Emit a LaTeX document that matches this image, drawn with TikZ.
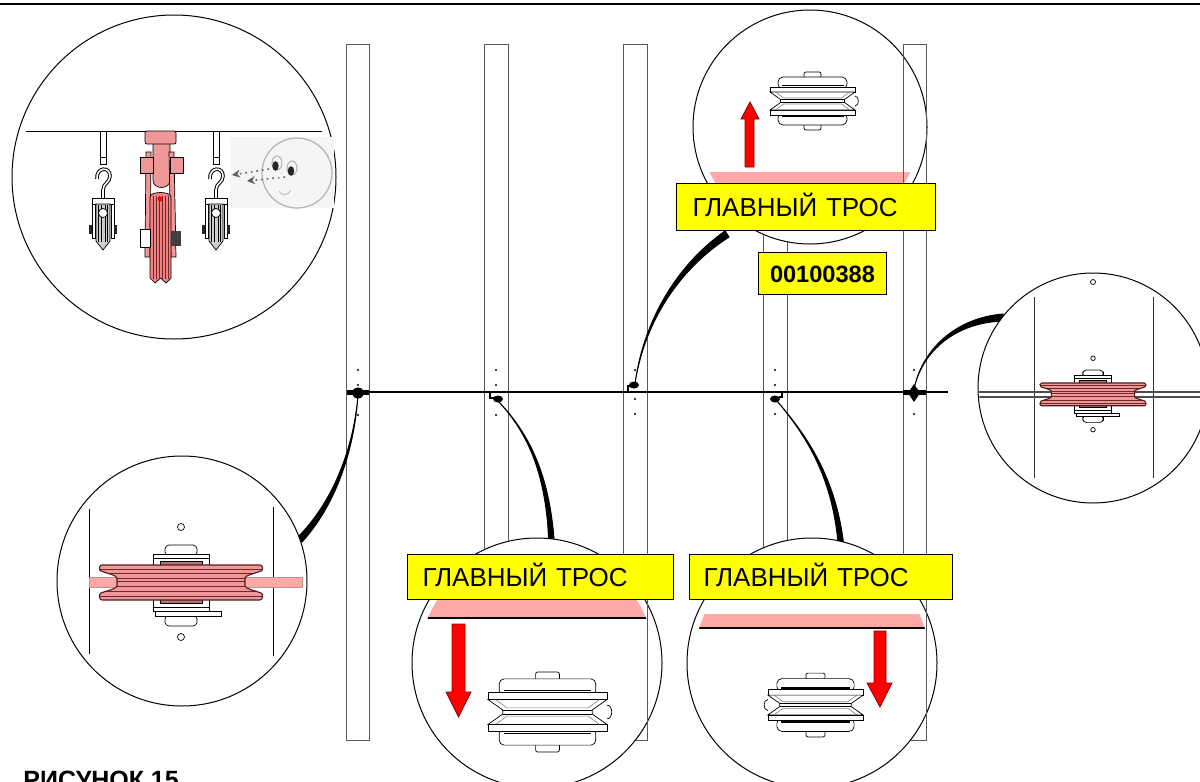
\documentclass[tikz,border=0pt]{standalone}
\usepackage{fontspec}
\setmainfont{Liberation Sans}
\usetikzlibrary{calc,arrows.meta}

\definecolor{tagyellow}{RGB}{255,255,0}
\definecolor{sheavepink}{RGB}{240,152,152}
\definecolor{sheavedark}{RGB}{110,40,40}
\definecolor{bandpink}{RGB}{255,168,168}
\definecolor{arrowred}{RGB}{255,0,0}
\definecolor{polegray}{RGB}{90,90,90}

% tapered leader: thin at the pulley mount, wide at the detail circle
\newcommand\taperline[5]{%
  \filldraw[line width=0.5pt] (#1) .. controls (#2) and (#3) .. (#4)
    -- ($(#4)+(#5)$) .. controls ($(#3)+0.6*(#5)$) and ($(#2)+0.15*(#5)$) .. (#1) -- cycle;}

% outline of the grooved wheel seen from the front
\newcommand\sheaveoutline{(-79,-17) -- (79,-17) .. controls (82,-17) and (82.5,-12) .. (80,-11)
  .. controls (72,-8) and (65,-7) .. (64,-4) -- (64,4) .. controls (65,7) and (72,8) .. (80,11)
  .. controls (82.5,12) and (82,18) .. (79,18) -- (-79,18) .. controls (-82,18) and (-82.5,12) .. (-80,11)
  .. controls (-72,8) and (-65,7) .. (-64,4) -- (-64,-4) .. controls (-65,-7) and (-72,-8) .. (-80,-11)
  .. controls (-82.5,-12) and (-82,-17) .. (-79,-17) -- cycle}

\tikzset{
  part/.style={draw=black, line width=0.35pt},
  pole/.style={draw=polegray, line width=0.5pt},
  zoomcircle/.style={circle, draw=black, line width=0.5pt, fill=white, inner sep=0pt},
  tagbox/.style={draw=black, line width=0.5pt, fill=tagyellow, anchor=north west,
    inner ysep=0pt, text depth=0pt},
  redarrow/.style={draw=red!55!black, line width=0.4pt, fill=arrowred},
  % pulley seen from the side (groove facing left/right)
  sidesheave/.pic={
    \draw[part, fill=white, rounded corners=1pt] (-8.5,-29) rectangle (8.5,-23);
    \draw[part, fill=white, rounded corners=1pt] (-8.5,23) rectangle (8.5,29);
    \draw[part, fill=white, rounded corners=2.5pt] (-34.5,-24) rectangle (34.5,-12);
    \draw[part, fill=white, rounded corners=2.5pt] (-34.5,12) rectangle (34.5,24);
    \draw[line width=0.6pt] (-31,-15.5) -- (31,-15.5);
    \draw[line width=0.6pt] (-31,15.5) -- (31,15.5);
    \draw[part, fill=white] (-42.5,-14) rectangle (42.5,-9);
    \draw[part, fill=white] (-42.5,9) rectangle (42.5,14);
    \draw[part, fill=white] (-42.5,-9) -- (-32,-1.5) -- (-32,1.5) -- (-42.5,9) -- (42.5,9)
      -- (32,1.5) -- (32,-1.5) -- (42.5,-9) -- cycle;
    \draw[part] (-32,-1.5) -- (32,-1.5) (-32,1.5) -- (32,1.5);
    \draw[draw=gray, line width=0.3pt] (-37,-9) -- (-29,-3) -- (29,-3) -- (37,-9);
    \draw[draw=gray, line width=0.3pt] (-37,9) -- (-29,3) -- (29,3) -- (37,9);
    \draw[part] (42.5,-5) .. controls (47,-5) and (47,5) .. (42.5,5);
  },
  % grooved pink wheel seen from the front, cable level at y=0
  frontsheave/.pic={
    \draw[part, fill=white] (0,-55) circle (3.5);
    \draw[part, fill=white] (0,55) circle (3.5);
    \draw[part, fill=white, rounded corners=2pt] (-16,-37) rectangle (16,-26);
    \draw[part, fill=white] (-28,-28) rectangle (28,-17);
    \draw[part] (-28,-24) -- (28,-24);
    \draw[part, fill=sheavepink!75!black] (-21,-21) rectangle (21,-17);
    \draw[part, fill=white, rounded corners=2pt] (-16,33) rectangle (16,44);
    \draw[part, fill=white] (-26,29) rectangle (40,34);
    \draw[part, fill=white] (-28,17) rectangle (28,29);
    \draw[part] (-28,25) -- (28,25);
    \draw[part, fill=sheavepink!75!black] (-21,17) rectangle (21,21);
    \fill[sheavepink] \sheaveoutline;
    \begin{scope}
      \clip \sheaveoutline;
      \foreach \yy in {-13,-9,-4,-1,4,9,14}
        \draw[sheavedark, line width=0.3pt] (-90,\yy) -- (90,\yy);
    \end{scope}
    \draw[draw=sheavedark!70!black, line width=0.55pt] \sheaveoutline;
  },
  % hook with a small snatch block, hanging from the line at y=0
  hookblock/.pic={
    \draw[part, fill=white] (-3,0) rectangle (3,33);
    \draw[part] (-3,26) -- (3,26);
    \draw[line width=1.8pt] (-6,48) .. controls (-7,36) and (7,35) .. (7,45)
      .. controls (7,52) and (0,52) .. (0,59) -- (0,67);
    \draw[line width=0.8pt, white] (-6,48) .. controls (-7,36) and (7,35) .. (7,45)
      .. controls (7,52) and (0,52) .. (0,59) -- (0,67);
    \draw[part, fill=white] (-11,67) rectangle (11,73);
    \draw[part, fill=black!20] (-7,73) -- (-7,110) -- (0,119) -- (7,110) -- (7,73) -- cycle;
    \foreach \xx in {-4.5,-2,2,4.5} \draw[part] (\xx,74) -- (\xx,111);
    \draw[part, fill=white] (-11,73) rectangle (-8,107);
    \draw[part, fill=white] (8,73) rectangle (11,107);
    \draw[part, fill=white] (0,82) circle (4.5);
    \fill[black!85] (-14,94) rectangle (-11,103);
    \fill[black!85] (11,94) rectangle (14,103);
  }
}

\begin{document}
\begin{tikzpicture}[x=0.5pt, y=-0.5pt]
\useasboundingbox (0,0) rectangle (1200,782);
\fill[white] (0,0) rectangle (1200,782);

% frame line at the top
\draw[line width=1pt] (0,4) -- (1200,4);

% poles
\foreach \xa/\xb in {346/369, 484/508, 623/647, 763/787, 903/926}
  \draw[pole] (\xa,44) rectangle (\xb,740);

% bolt holes on the poles
\foreach \px/\py in {358/370, 358/385, 358/415, 496/370, 496/385, 496/415,
                     635/370, 635/399, 635/414, 775/370, 775/385, 775/414,
                     914/370, 914/414}
  \fill (\px,\py) circle (1.1);

% main cable
\draw[line width=1.1pt] (347,392) -- (948,392);

% pulley mounts on the poles
\coordinate (m1) at (358,395);
\coordinate (m2) at (498,401);
\coordinate (m3) at (635,384);
\coordinate (m4) at (777,401);
\coordinate (m5) at (914,389);
\fill (347,389.5) rectangle (369,394.5);
\fill (358,393) ellipse [x radius=6, y radius=5.5];
\fill (903,389.5) rectangle (926,394.5);
\fill (914,384) -- (920,393) -- (914,402) -- (908,393) -- cycle;
\draw[line width=0.6pt] (490,392) -- (490,398) -- (494,398);
\fill (498,399) ellipse [x radius=5, y radius=3.5];
\draw[line width=0.6pt] (628,392) -- (628,386) -- (631,386);
\fill (634,385) ellipse [x radius=5, y radius=3.5];
\draw[line width=0.6pt] (782,392) -- (782,397) -- (779,397);
\fill (775,399) ellipse [x radius=5, y radius=3.5];

% leaders from the mounts to the detail views
\coordinate (e1) at (297,538);
\coordinate (e2) at (549,558);
\coordinate (e3) at (725,231);
\coordinate (e4) at (839,558);
\coordinate (e5) at (1003,314);
\taperline{m1}{354,445}{335,500}{e1}{5,4}
\taperline{m2}{530,435}{549,480}{e2}{6,0}
\taperline{m3}{642,330}{670,270}{e3}{4,6}
\taperline{m4}{810,440}{836,485}{e4}{6,0}
\taperline{m5}{922,350}{955,318}{e5}{1,7}

% detail: block hanging from the line
\node[zoomcircle, minimum size=162pt] (zTL) at (174,177) {};
\draw[line width=0.5pt] (26,131) -- (322,131);
\pic at (103,131) {hookblock};
\pic at (216,131) {hookblock};
\draw[part, fill=sheavepink] (153,133) -- (153,180) .. controls (153,190) and (170,190) .. (170,180) -- (170,133) -- cycle;
\draw[part, fill=sheavepink] (146,152) -- (151,152) -- (150,257) -- (145,257) -- cycle;
\draw[part, fill=sheavepink] (169,152) -- (174,152) -- (176,257) -- (171,257) -- cycle;
\draw[part, fill=sheavepink, rounded corners=1pt] (145,131) rectangle (176,144);
\draw[part, fill=sheavepink] (140,157) rectangle (153,173);
\draw[part, fill=sheavepink] (170,157) rectangle (183,173);
\draw[part, fill=sheavepink!85!red] (150,197) .. controls (150,191) and (171,191) .. (171,197)
  -- (171,278) -- (166,283) -- (160.5,278) -- (155,283) -- (150,278) -- cycle;
\foreach \xx in {153,156,159,162,165,168}
  \draw[sheavedark, line width=0.3pt] (\xx,196) -- (\xx,279);
\draw[part, fill=white] (140,229) rectangle (150,247);
\fill[black!75] (171,231) rectangle (181,246);
\fill[red] (160,199) circle (2.5);
% observer
\fill[black!4] (230,137) rectangle (334,208);
\draw[gray!60, line width=0.6pt] (297,173) circle (35);
\draw[gray!60, line width=0.5pt] (277,163) ellipse [x radius=5, y radius=7];
\fill[black!85] (275.5,166) ellipse [x radius=3.2, y radius=4.8];
\draw[gray!60, line width=0.5pt] (292,168) ellipse [x radius=5, y radius=7];
\fill[black!85] (291,171) ellipse [x radius=3.2, y radius=4.8];
\draw[gray!50, line width=0.5pt] (279,191) .. controls (282,196) and (288,196) .. (291,190);
\draw[gray!75!black, dotted, line width=0.8pt, -{Stealth[length=4pt, width=4pt]}] (269,169) -- (232,175);
\draw[gray!75!black, dotted, line width=0.8pt, -{Stealth[length=4pt, width=4pt]}] (285,177) -- (247,181);

% detail: pulley lifted up
\node[zoomcircle, minimum size=117pt] (zTM) at (810,127) {};
\begin{scope}
  \clip (810,127) circle (110);
  \fill[bandpink] (680,172) rectangle (940,195);
\end{scope}
\draw[redarrow] (745,167) -- (745,119) -- (741,119) -- (750,102) -- (759,119) -- (754,119) -- (754,167) -- cycle;
\pic at (812.5,101) {sidesheave};

% detail: pulley at the end pole
\node[zoomcircle, minimum size=115pt] (zR) at (1093,388) {};
\draw[line width=0.5pt, black!80] (1034,297) -- (1034,478);
\draw[line width=0.5pt, black!80] (1153,297) -- (1153,478);
\begin{scope}
  \clip (1093,388) circle (114);
  \draw[line width=0.6pt, black!70] (970,392) -- (1210,392);
  \draw[line width=0.6pt, black!70] (970,397) -- (1210,397);
\end{scope}
\draw[part, fill=white] (1093,282) circle (2.5);
\pic[scale=0.65] at (1093,394) {frontsheave};

% detail: pulley at the first pole
\node[zoomcircle, minimum size=125pt] (zBL) at (182,581) {};
\draw[line width=0.5pt] (89,509) -- (89,654);
\draw[line width=0.5pt] (273,507) -- (273,656);
\draw[draw=sheavedark!50, line width=0.3pt, fill=bandpink] (89,577) rectangle (302,587);
\pic at (181,582) {frontsheave};

% detail: pulley pulled down (left)
\node[zoomcircle, minimum size=125pt] (zB1) at (537,663) {};
\begin{scope}
  \clip (537,663) circle (118);
  \fill[bandpink] (400,596) rectangle (680,618);
  \draw[line width=0.6pt] (400,618) -- (680,618);
\end{scope}
\draw[redarrow] (452,624) -- (465,624) -- (465,692) -- (471,692) -- (458.5,717) -- (446,692) -- (452,692) -- cycle;
\pic[xscale=1.4, yscale=1.38] at (547.5,712) {sidesheave};

% detail: pulley pulled down (right)
\node[zoomcircle, minimum size=125pt] (zB2) at (812,663) {};
\begin{scope}
  \clip (812,663) circle (118);
  \fill[bandpink] (680,614) rectangle (950,628);
  \draw[line width=0.6pt] (680,628) -- (950,628);
\end{scope}
\draw[redarrow] (874,631) -- (886,631) -- (886,683) -- (892,683) -- (880,707) -- (867,683) -- (874,683) -- cycle;
\pic[xscale=-1.12, yscale=1.1] at (815.5,705) {sidesheave};

% pole edges seen in front of the detail views
\draw[pole] (903,250) -- (903,44) -- (926,44) -- (926,250);
\draw[pole] (647,598) -- (647,740);
\draw[pole] (926,598) -- (926,740);

% tags
\node[tagbox, font=\fontsize{13}{15}\selectfont, minimum height=23.5pt, text height=9.3pt,
  text width=113.5pt, inner xsep=8pt, align=left] (tagA) at (676,183) {ГЛАВНЫЙ ТРОС};
\node[tagbox, font=\fontsize{13}{15}\selectfont, minimum height=22.5pt, text height=9.3pt,
  text width=118pt, inner xsep=7.5pt, align=left] (tagB) at (407,554) {ГЛАВНЫЙ ТРОС};
\node[tagbox, font=\fontsize{13}{15}\selectfont, minimum height=22.5pt, text height=9.3pt,
  text width=117.5pt, inner xsep=7pt, align=left] (tagC) at (689,554) {ГЛАВНЫЙ ТРОС};
\node[tagbox, font=\bfseries\fontsize{11.8}{14}\selectfont, minimum height=21pt, minimum width=64pt,
  text height=8.5pt, inner xsep=0pt] (part) at (758,252) {00100388};

\node[anchor=base west, inner sep=0pt, font=\bfseries\fontsize{12.5}{15}\selectfont] (fig) at (23,788) {РИСУНОК 15};
\end{tikzpicture}
\end{document}
